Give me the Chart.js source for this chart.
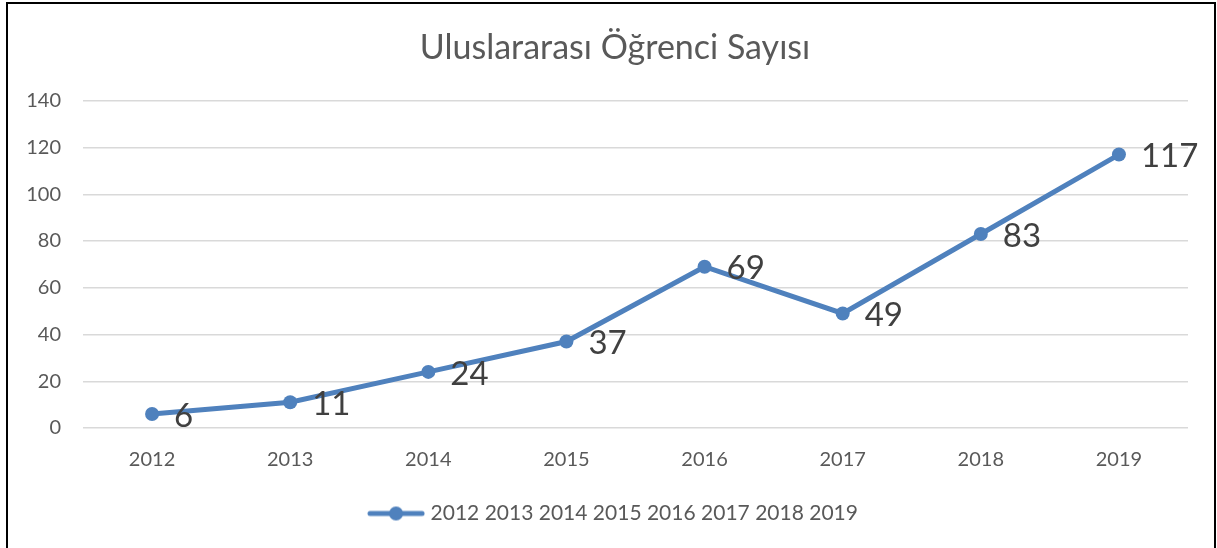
<!DOCTYPE html>
<html>
<head>
<meta charset="utf-8">
<script src="https://cdn.jsdelivr.net/npm/chart.js@4"></script>
<style>
    html, body { margin: 0; padding: 0; background: #fff; overflow: hidden; }
    #wrap { position: relative; width: 1217px; height: 548px; }
    #frame { position: absolute; left: 6px; top: 2px; width: 1210px; height: 560px;
             border: 2px solid #000; box-sizing: border-box; pointer-events: none; }
</style>
</head>
<body>
<div id="wrap">
    <canvas id="chart" width="1217" height="548"></canvas>
    <div id="frame"></div>
</div>
<script>
const years = ['2012', '2013', '2014', '2015', '2016', '2017', '2018', '2019'];
const students = [6, 11, 24, 37, 69, 49, 83, 117];
const yTicks = [0, 20, 40, 60, 80, 100, 120, 140];

const blue = '#4F81BD';
const font = 'Lato, "Open Sans", sans-serif';

// legend marker: line with a dot in the middle
const marker = document.createElement('canvas');
marker.width = 58;
marker.height = 16;
{
    const c = marker.getContext('2d');
    c.strokeStyle = blue;
    c.lineWidth = 5;
    c.lineCap = 'round';
    c.beginPath();
    c.moveTo(3, 8);
    c.lineTo(55, 8);
    c.stroke();
    c.fillStyle = blue;
    c.beginPath();
    c.arc(29, 8, 7, 0, Math.PI * 2);
    c.fill();
}

// value labels to the right of each point
const valueLabels = {
    id: 'valueLabels',
    afterLayout(chart) {
        // let the y tick labels use the space left of the axis box
        chart.scales.y.left = 0;
    },
    afterDraw(chart) {
        const ctx = chart.ctx;
        const meta = chart.getDatasetMeta(0);
        ctx.save();
        ctx.font = '33px ' + font;
        ctx.fillStyle = '#404040';
        ctx.textAlign = 'left';
        ctx.textBaseline = 'middle';
        meta.data.forEach((pt, i) => {
            ctx.fillText(String(chart.data.datasets[0].data[i]), pt.x + 22, pt.y + 2);
        });
        ctx.restore();
    }
};

const chart = document.getElementById('chart');

new Chart(chart, {
    type: 'line',
    data: {
        labels: years,
        datasets: [
            {
                label: years.join(' '),
                data: students,
                borderColor: blue,
                backgroundColor: blue,
                borderWidth: 5,
                pointRadius: 7,
                pointHoverRadius: 7,
                pointBackgroundColor: blue,
                pointBorderWidth: 0,
                tension: 0
            }
        ]
    },
    options: {
        responsive: false,
        animation: false,
        layout: {
            padding: { left: 42, right: 29, top: 0, bottom: 14 }
        },
        plugins: {
            title: {
                display: true,
                text: 'Uluslararası Öğrenci Sayısı',
                color: '#595959',
                font: { family: font, size: 34, weight: 'normal' },
                padding: { top: 28, bottom: 32 }
            },
            legend: {
                position: 'bottom',
                labels: {
                    usePointStyle: true,
                    pointStyle: marker,
                    pointStyleWidth: 48,
                    boxHeight: 16,
                    color: '#595959',
                    font: { family: font, size: 21 },
                    padding: 11
                }
            },
            tooltip: { enabled: false }
        },
        scales: {
            x: {
                offset: true,
                grid: { display: false, drawTicks: false },
                border: { display: false },
                ticks: {
                    color: '#595959',
                    font: { family: font, size: 20 },
                    padding: 20,
                    maxRotation: 0
                }
            },
            y: {
                min: 0,
                max: 140,
                afterBuildTicks(scale) {
                    scale.ticks = yTicks.map(v => ({ value: v }));
                },
                afterFit(scale) {
                    scale.width = 41;
                },
                grid: { color: '#D9D9D9', lineWidth: 1.5, drawTicks: false },
                border: { display: false },
                ticks: {
                    color: '#595959',
                    font: { family: font, size: 20 },
                    padding: 22
                }
            }
        }
    },
    plugins: [valueLabels]
});
</script>
</body>
</html>
